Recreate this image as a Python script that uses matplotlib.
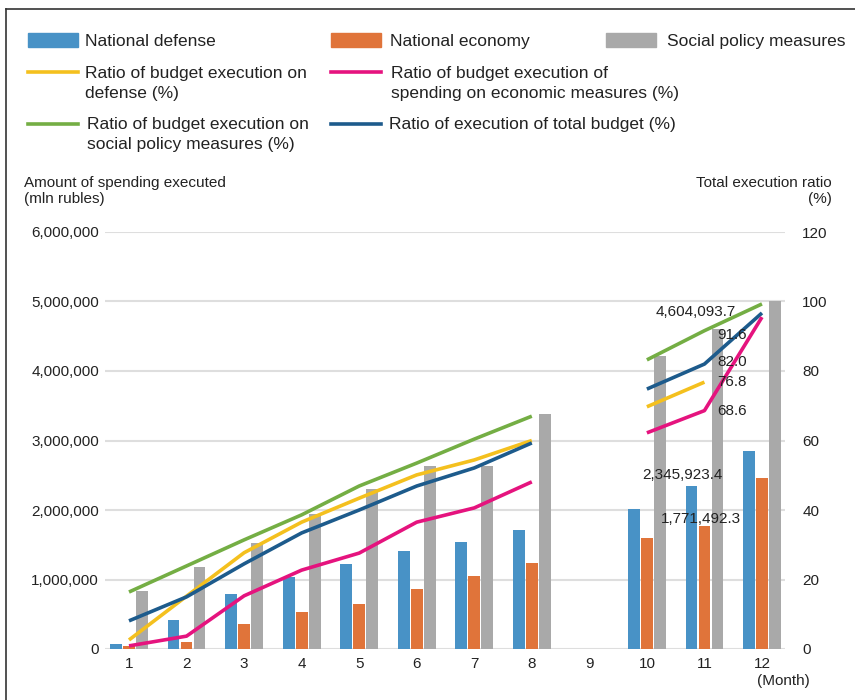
import numpy as np
import matplotlib
matplotlib.use("Agg")
import matplotlib.pyplot as plt
from matplotlib.ticker import FuncFormatter
from matplotlib.lines import Line2D
from matplotlib.patches import Rectangle

plt.rcParams['font.family'] = ['Liberation Sans', 'DejaVu Sans']

nan = np.nan
months = np.arange(1, 13)
month_labels = [str(m) for m in months]

# spending executed, mln rubles (cumulative)
defense = [72000, 420000, 790000, 1040000, 1220000, 1410000, 1540000, 1710000, nan, 2010000, 2345923.4, 2850000]
economy = [40000, 100000, 360000, 530000, 650000, 860000, 1050000, 1240000, nan, 1600000, 1771492.3, 2460000]
social = [830000, 1180000, 1520000, 1940000, 2300000, 2630000, 2630000, 3380000, nan, 4216000, 4604093.7, 5010000]

# execution ratios, %
r_def = [2.6, 15.2, 27.7, 36.5, 43.4, 50.1, 54.4, 60.0, nan, 69.7, 76.8, nan]
r_econ = [0.9, 3.7, 15.3, 22.7, 27.6, 36.5, 40.6, 48.1, nan, 62.2, 68.6, 95.5]
r_social = [16.4, 23.9, 31.4, 38.6, 46.9, 53.5, 60.4, 67.0, nan, 83.2, 91.6, 99.3]
r_total = [8.1, 15.0, 24.5, 33.4, 40.0, 46.9, 52.1, 59.3, nan, 74.8, 82.0, 96.7]

c_def = '#4892c6'
c_econ = '#e0743a'
c_soc = '#a9a9a9'
c_rdef = '#f4c01e'
c_recon = '#e5137e'
c_rsoc = '#74ae44'
c_rtot = '#1d5b8c'

W, H = 855, 700
def fx(x):
    return x / W
def fy(y):
    return 1 - y / H

fig = plt.figure(figsize=(8.55, 7), dpi=100)
ax = fig.add_axes([fx(105), fy(649), (785 - 105) / W, (649 - 232) / H])
ax2 = ax.twinx()

bw = 0.205
off = 0.226
ax.bar(months - off, defense, bw, color=c_def, zorder=2)
ax.bar(months, economy, bw, color=c_econ, zorder=2)
ax.bar(months + off, social, bw, color=c_soc, zorder=2)

lw = 2.6
ax2.plot(months, r_social, color=c_rsoc, lw=lw, solid_capstyle='butt')
ax2.plot(months, r_def, color=c_rdef, lw=lw, solid_capstyle='butt')
ax2.plot(months, r_total, color=c_rtot, lw=lw, solid_capstyle='butt')
ax2.plot(months, r_econ, color=c_recon, lw=lw, solid_capstyle='butt')

ax.set_xlim(0.583, 12.40)
ax.set_ylim(0, 6000000)
ax2.set_ylim(0, 120)
ax.set_yticks(np.arange(0, 6000001, 1000000))
ax2.set_yticks(np.arange(0, 121, 20))
ax.set_xticks(months)
ax.set_xticklabels(month_labels)
ax.yaxis.set_major_formatter(FuncFormatter(lambda v, p: f"{int(v):,}"))

ax.set_axisbelow(True)
ax.grid(axis='y', color='#dedede', lw=1.5, zorder=0)
for a in (ax, ax2):
    for s in a.spines.values():
        s.set_visible(False)
ax.tick_params(axis='both', length=0, labelsize=11, colors='#222222')
ax.tick_params(axis='y', pad=4.3)
ax.tick_params(axis='x', pad=6)
ax2.tick_params(axis='y', length=0, labelsize=11, colors='#222222', pad=12.5)

# data labels for month 11
i = 10
lab = dict(fontsize=11, color='#222222', textcoords='offset points')
ax.annotate(f"{social[i]:,.1f}", (months[i] + off, social[i]), xytext=(-15.5, 9.4), ha='center', va='baseline', **lab)
ax.annotate(f"{defense[i]:,.1f}", (months[i] - off, defense[i]), xytext=(-6.8, 5), ha='center', va='baseline', **lab)
ax.annotate(f"{economy[i]:,.1f}", (months[i], economy[i]), xytext=(-2.2, 2.2), ha='center', va='baseline', **lab)
ax2.annotate(f"{r_social[i]:.1f}", (months[i], r_social[i]), xytext=(9.4, -6), ha='left', va='baseline', **lab)
ax2.annotate(f"{r_total[i]:.1f}", (months[i], r_total[i]), xytext=(9.4, -1.5), ha='left', va='baseline', **lab)
ax2.annotate(f"{r_def[i]:.1f}", (months[i], r_def[i]), xytext=(9.4, -3), ha='left', va='baseline', **lab)
ax2.annotate(f"{r_econ[i]:.1f}", (months[i], r_econ[i]), xytext=(9.4, -3.2), ha='left', va='baseline', **lab)

# axis titles
fig.text(fx(24), fy(187), "Amount of spending executed", fontsize=11, va='baseline', color='#222222')
fig.text(fx(24), fy(203), "(mln rubles)", fontsize=11, va='baseline', color='#222222')
fig.text(fx(832), fy(187), "Total execution ratio", fontsize=11, va='baseline', ha='right', color='#222222')
fig.text(fx(832), fy(203), "(%)", fontsize=11, va='baseline', ha='right', color='#222222')
fig.text(fx(757), fy(685), "(Month)", fontsize=11, va='baseline', color='#222222')

# legend
fs = 12.5
def patch(x, y, c):
    fig.add_artist(Rectangle((fx(x), fy(y + 14)), 50 / W, 14 / H, transform=fig.transFigure, color=c))
def hline(x, y, c):
    fig.add_artist(Line2D([fx(x), fx(x + 50)], [fy(y), fy(y)], transform=fig.transFigure, color=c, lw=2.6))
def ltext(x, y, lines):
    for k, t in enumerate(lines):
        fig.text(fx(x), fy(y + 20 * k), t, fontsize=fs, va='baseline', color='#222222')

patch(28, 33, c_def)
ltext(85, 46, ["National defense"])
patch(331, 33, c_econ)
ltext(390, 46, ["National economy"])
patch(606, 33, c_soc)
ltext(667, 46, ["Social policy measures"])
hline(28, 72, c_rdef)
ltext(85, 78, ["Ratio of budget execution on", "defense (%)"])
hline(331, 72, c_recon)
ltext(391, 78, ["Ratio of budget execution of", "spending on economic measures (%)"])
hline(28, 124, c_rsoc)
ltext(87, 129, ["Ratio of budget execution on", "social policy measures (%)"])
hline(331, 124, c_rtot)
ltext(389, 129, ["Ratio of execution of total budget (%)"])

# frame
fig.add_artist(Line2D([fx(6), 1], [fy(9), fy(9)], transform=fig.transFigure, color='#333333', lw=1.2))
fig.add_artist(Line2D([fx(6), fx(6)], [fy(9), 0], transform=fig.transFigure, color='#333333', lw=1.2))

fig.savefig("out.png", dpi=100)
